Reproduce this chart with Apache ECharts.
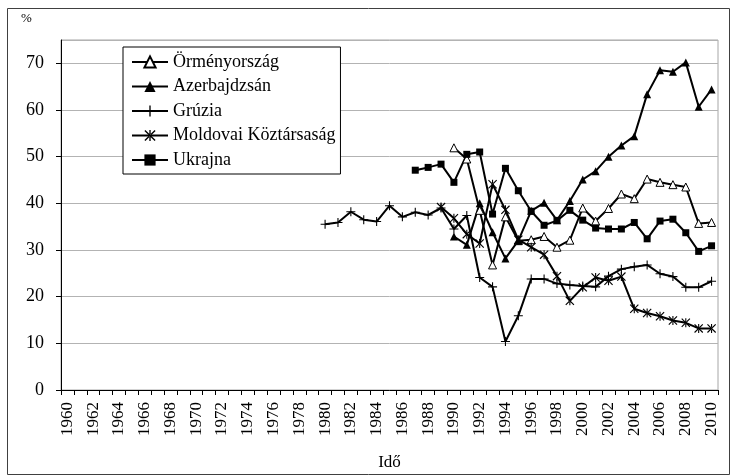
<!DOCTYPE html>
<html>
<head>
<meta charset="utf-8">
<script src="https://cdn.jsdelivr.net/npm/echarts@6/dist/echarts.min.js"></script>
<style>
html, body { margin: 0; padding: 0; background: #fff; }
#chart { width: 731px; height: 476px; }
</style>
</head>
<body>
<div id="chart"></div>
<script>
// évek a vízszintes tengelyen
const years = [];
for (let y = 1960; y <= 2010; y++) years.push(String(y));

// adatsorok: kezdő év + értékek (%)
const armeniaStart = 1990;
const armenia = [51.9, 49.5, 38.5, 26.8, 37.1, 32.0, 32.2, 32.9, 30.6, 32.1, 39.0, 36.2, 38.9, 42.0, 41.0, 45.2, 44.5, 44.0, 43.5, 35.7, 35.9];
const azerStart = 1990;
const azer = [32.9, 31.1, 40.0, 33.8, 28.2, 32.0, 38.4, 40.1, 36.4, 40.5, 45.1, 46.9, 50.0, 52.4, 54.4, 63.4, 68.5, 68.2, 70.2, 60.7, 64.4];
const georgiaStart = 1980;
const georgia = [35.5, 35.9, 38.2, 36.5, 36.1, 39.5, 37.1, 38.1, 37.5, 39.0, 34.5, 37.4, 24.1, 22.1, 10.4, 15.9, 23.8, 23.8, 22.8, 22.5, 22.3, 22.1, 24.4, 25.9, 26.4, 26.8, 24.9, 24.3, 22.0, 22.0, 23.3];
const moldovaStart = 1989;
const moldova = [39.2, 36.8, 33.4, 31.4, 44.1, 38.6, 32.2, 30.6, 29.0, 24.4, 19.1, 22.0, 24.1, 23.4, 24.3, 17.4, 16.5, 15.8, 14.9, 14.4, 13.2, 13.2];
const ukraineStart = 1987;
const ukraine = [47.1, 47.7, 48.4, 44.5, 50.5, 51.0, 37.7, 47.5, 42.7, 38.3, 35.3, 36.3, 38.5, 36.4, 34.7, 34.5, 34.5, 35.9, 32.4, 36.2, 36.6, 33.7, 29.7, 30.9];

const names = ['Örményország', 'Azerbajdzsán', 'Grúzia', 'Moldovai Köztársaság', 'Ukrajna'];
const font = "'Liberation Serif', 'Times New Roman', serif";

// kezdő évtől feltöltött tömb a kategóriatengelyhez
function pad(start, vals) {
	return years.map(y => {
		const i = Number(y) - start;
		return i >= 0 && i < vals.length ? vals[i] : null;
	});
}

const plusPath = 'path://M4.4,0H5.6V4.4H10V5.6H5.6V10H4.4V5.6H0V4.4H4.4Z';
const starPath = 'path://M0,0.9L0.9,0L10,9.1L9.1,10Z M10,0.9L9.1,0L0,9.1L0.9,10Z M4.4,0H5.6V10H4.4Z';

function line(name, data, symbol, size, fill) {
	return {
		name: name,
		type: 'line',
		data: data,
		symbol: symbol,
		symbolSize: size,
		showAllSymbol: true,
		connectNulls: false,
		lineStyle: { color: '#000', width: 2 },
		itemStyle: { color: fill, borderColor: '#000', borderWidth: fill === '#fff' ? 1 : 0 }
	};
}

const chart = echarts.init(document.getElementById('chart'));
chart.setOption({
	animation: false,
	backgroundColor: '#fff',
	textStyle: { fontFamily: font, color: '#000' },
	grid: {
		left: 61, right: 13, top: 40, bottom: 82,
		show: true, borderColor: '#a6a6a6', borderWidth: 1
	},
	legend: {
		orient: 'vertical',
		left: 123, top: 47,
		padding: [6, 5, 5, 8],
		itemGap: 6.5,
		itemWidth: 36, itemHeight: 14,
		itemTextGap: 1,
		borderColor: '#000', borderWidth: 1,
		backgroundColor: '#fff',
		textStyle: { fontFamily: font, fontSize: 18, lineHeight: 18, color: '#000' },
		data: names
	},
	xAxis: {
		type: 'category',
		data: years,
		boundaryGap: true,
		name: 'Idő',
		nameLocation: 'middle',
		nameGap: 64,
		nameTextStyle: { fontFamily: font, fontSize: 17, color: '#000' },
		axisLine: { show: true, lineStyle: { color: '#000', width: 1 } },
		axisTick: { show: true, interval: 0, length: 5, lineStyle: { color: '#000' } },
		axisLabel: { interval: 1, rotate: 90, fontSize: 17, color: '#000', fontFamily: font, margin: 12 },
		splitLine: { show: false }
	},
	yAxis: {
		type: 'value',
		min: 0, max: 75, interval: 10,
		axisLine: { show: true, lineStyle: { color: '#000', width: 1 } },
		axisTick: { show: true, length: 5, lineStyle: { color: '#000' } },
		axisLabel: { fontSize: 18, color: '#000', fontFamily: font, margin: 17, showMaxLabel: false },
		splitLine: { show: true, lineStyle: { color: '#b3b3b3', width: 1 } }
	},
	graphic: [
		{
			type: 'rect', silent: true, z: -1,
			shape: { x: 7.5, y: 8.5, width: 722, height: 466 },
			style: { fill: 'none', stroke: '#404040', lineWidth: 1 }
		},
		{
			type: 'text', left: 21, top: 12,
			style: { text: '%', font: '13px ' + font, fill: '#000' }
		}
	],
	series: [
		line(names[0], pad(armeniaStart, armenia), 'triangle', 8, '#fff'),
		line(names[1], pad(azerStart, azer), 'triangle', 8, '#000'),
		line(names[2], pad(georgiaStart, georgia), plusPath, 9, '#000'),
		line(names[3], pad(moldovaStart, moldova), starPath, 9, '#000'),
		line(names[4], pad(ukraineStart, ukraine), 'rect', 7, '#000')
	]
});
</script>
</body>
</html>
